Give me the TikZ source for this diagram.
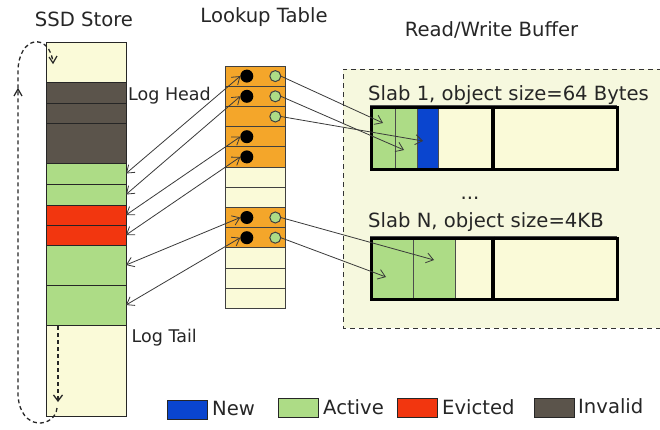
\documentclass[tikz,border=0pt]{standalone}
\usepackage{fontspec}
\setmainfont{DejaVu Sans}
\usetikzlibrary{arrows.meta}
\definecolor{cream}{HTML}{FAFAD8}
\definecolor{invalid}{HTML}{5B544B}
\definecolor{active}{HTML}{ADDC86}
\definecolor{evicted}{HTML}{F2360F}
\definecolor{newc}{HTML}{0A45CF}
\definecolor{lkorange}{HTML}{F4A62A}
\definecolor{bufbg}{HTML}{F6F8DE}
\definecolor{arrowc}{HTML}{3A3A3A}
\tikzset{
  cell/.style={draw=black!85, line width=0.9pt, minimum width=80pt, inner sep=0pt, outer sep=0pt},
  lk/.style={draw=black!75, line width=0.8pt, minimum width=60pt, minimum height=20.2pt, inner sep=0pt, outer sep=0pt},
  barb/.tip={Straight Barb[length=7pt,width=10pt]},
  ptr/.style={draw=arrowc, line width=0.8pt, -barb},
  bptr/.style={draw=arrowc, line width=0.8pt, barb-barb},
  blackdot/.style={circle, fill=black, minimum size=13pt, inner sep=0pt, outer sep=0pt},
  ring/.style={circle, draw=black!75, fill=active, line width=1pt, minimum size=11pt, inner sep=0pt, outer sep=0pt},
  lbl/.style={font=\fontsize{19.6}{22}\selectfont, inner sep=0pt, text=black!85},
  smalllbl/.style={font=\fontsize{17.5}{20}\selectfont, inner sep=0pt, text=black!85},
  slabcell/.style={draw=black!70, line width=0.8pt, inner sep=0pt, outer sep=0pt},
  slabbox/.style={draw=black, line width=3.2pt, inner sep=0pt},
  loopline/.style={line width=1.3pt, dash pattern=on 4pt off 3pt, draw=black!85},
  legbox/.style={draw=black!85, line width=1pt, minimum width=40pt, minimum height=19pt, inner sep=0pt},
}
\begin{document}
\begin{tikzpicture}[x=1pt,y=-1pt]
\useasboundingbox (0,0) rectangle (660,429);
\fill[white] (0,0) rectangle (660,429);

% Read/Write buffer area
\fill[bufbg] (343,69) rectangle (662,328);
\draw[line width=1pt, dash pattern=on 5pt off 4pt, draw=black!80] (662,69) -- (343,69) -- (343,328) -- (662,328);

% titles
\node[lbl, anchor=base] (tssd) at (84,26.7) {SSD Store};
\node[lbl, anchor=base] (tlk) at (264,22.7) {Lookup Table};
\node[lbl, anchor=base] (tbuf) at (491.5,36) {Read/Write Buffer};

% SSD store
\node[cell, fill=cream,   minimum height=40pt, anchor=north] (s1)  at (86,42.7) {};
\node[cell, fill=invalid, minimum height=20.3pt, anchor=north] (s2)  at (86,82.7) {};
\node[cell, fill=invalid, minimum height=20pt, anchor=north] (s3)  at (86,103) {};
\node[cell, fill=invalid, minimum height=40pt, anchor=north] (s4)  at (86,123) {};
\node[cell, fill=active,  minimum height=21pt, anchor=north] (s5)  at (86,163) {};
\node[cell, fill=active,  minimum height=21pt, anchor=north] (s6)  at (86,184) {};
\node[cell, fill=evicted, minimum height=20pt, anchor=north] (s7)  at (86,205) {};
\node[cell, fill=evicted, minimum height=20pt, anchor=north] (s8)  at (86,225) {};
\node[cell, fill=active,  minimum height=40pt, anchor=north] (s9)  at (86,245) {};
\node[cell, fill=active,  minimum height=40pt, anchor=north] (s10) at (86,285) {};
\node[cell, fill=cream,   minimum height=91pt, anchor=north] (s11) at (86,325) {};

\node[smalllbl, anchor=base west] (lhead) at (128,100) {Log Head};
\node[smalllbl, anchor=base west] (ltail) at (131.5,342.7) {Log Tail};

% wrap-around log arrows
\coordinate (tailstart) at (58,326);
\coordinate (tailend) at (58,402);
\draw[loopline, -{Straight Barb[length=6pt,width=9pt]}] (tailstart) -- (tailend);
\coordinate (wrapa) at (57,408);
\coordinate (wrapb) at (18,395);
\coordinate (wrapc) at (18,72);
\coordinate (wrapd) at (53,63);
\draw[loopline] (wrapa) .. controls (55,428) and (20,432) .. (wrapb) -- (wrapc)
  .. controls (18,35) and (50,32) .. (wrapd);
\draw[line width=1.2pt, draw=black!85] (49,57) -- (53,63) -- (57,56);
\draw[line width=1.2pt, draw=black!85] (14,96) -- (18,89) -- (22,96);

% Lookup table
\foreach \i/\c in {1/lkorange,2/lkorange,3/lkorange,4/lkorange,5/lkorange,6/cream,7/cream,8/lkorange,9/lkorange,10/cream,11/cream,12/cream}{
  \node[lk, fill=\c, anchor=north] (r\i) at (255.3,{66+(\i-1)*20.2}) {};
}
\foreach \i in {1,2,4,5,8,9}{
  \node[blackdot] (d\i) at ([xshift=-8.5pt]r\i.center) {};
}
\foreach \i in {1,2,3,8,9}{
  \node[ring] (g\i) at ([xshift=20pt]r\i.center) {};
}

% pointers between SSD store and lookup table
\draw[bptr] (s5.east)  -- (d1.west);
\draw[bptr] (s6.east)  -- (d2.west);
\draw[bptr] (s7.east)  -- (d4.west);
\draw[bptr] (s8.east)  -- (d5.west);
\draw[bptr] (s9.east)  -- (d8.west);
\draw[bptr] (s10.east) -- (d9.west);

% Slab 1
\node[lbl, anchor=base west] (slab1lbl) at (368,100) {Slab 1, object size=64 Bytes};
\node[slabcell, fill=active, minimum width=25pt, minimum height=62.3pt, anchor=north west] (a1) at (370,105.7) {};
\node[slabcell, fill=active, minimum width=22pt, minimum height=62.3pt, anchor=north west] (a2) at (395,105.7) {};
\node[slabcell, fill=newc, minimum width=21pt, minimum height=62.3pt, anchor=north west] (a3) at (417,105.7) {};
\node[slabcell, fill=cream, minimum width=55pt, minimum height=62.3pt, anchor=north west] (a4) at (438,105.7) {};
\node[slabcell, fill=cream, minimum width=123pt, minimum height=62.3pt, anchor=north west] (a5) at (493,105.7) {};
\draw[line width=3.2pt] (a5.north west) -- (a5.south west);
\node[slabbox, minimum width=246pt, minimum height=62.3pt, anchor=north west] (slab1) at (370,105.7) {};

\node[lbl, anchor=base] (dots) at (470,199) {...};

% Slab N
\node[lbl, anchor=base west] (slabNlbl) at (368,227.5) {Slab N, object size=4KB};
\node[slabcell, fill=active, minimum width=43pt, minimum height=61.3pt, anchor=north west] (b1) at (370,236.7) {};
\node[slabcell, fill=active, minimum width=42pt, minimum height=61.3pt, anchor=north west] (b2) at (413,236.7) {};
\node[slabcell, fill=cream, minimum width=38pt, minimum height=61.3pt, anchor=north west] (b3) at (455,236.7) {};
\node[slabcell, fill=cream, minimum width=123pt, minimum height=61.3pt, anchor=north west] (b4) at (493,236.7) {};
\draw[line width=3.2pt] (b4.north west) -- (b4.south west);
\node[slabbox, minimum width=246pt, minimum height=61.3pt, anchor=north west] (slabN) at (370,236.7) {};

% pointers from lookup table to slabs
\coordinate (t1) at (383,123);
\coordinate (t2) at (404,150);
\coordinate (t3) at (423,141);
\coordinate (t8) at (434,260);
\coordinate (t9) at (386,277);
\draw[ptr] (g1.east) -- (t1);
\draw[ptr] (g2.east) -- (t2);
\draw[ptr] (g3.east) -- (t3);
\draw[ptr] (g8.east) -- (t8);
\draw[ptr] (g9.east) -- (t9);

% legend
\node[legbox, fill=newc, anchor=west] (lg1) at (167,410) {};
\node[lbl, anchor=base west] (lt1) at (212,415) {New};
\node[legbox, fill=active, anchor=west] (lg2) at (278,408) {};
\node[lbl, anchor=base west] (lt2) at (323,414) {Active};
\node[legbox, fill=evicted, anchor=west] (lg3) at (397,408) {};
\node[lbl, anchor=base west] (lt3) at (442,414) {Evicted};
\node[legbox, fill=invalid, anchor=west] (lg4) at (534,408) {};
\node[lbl, anchor=base west] (lt4) at (578,413) {Invalid};
\end{tikzpicture}
\end{document}
